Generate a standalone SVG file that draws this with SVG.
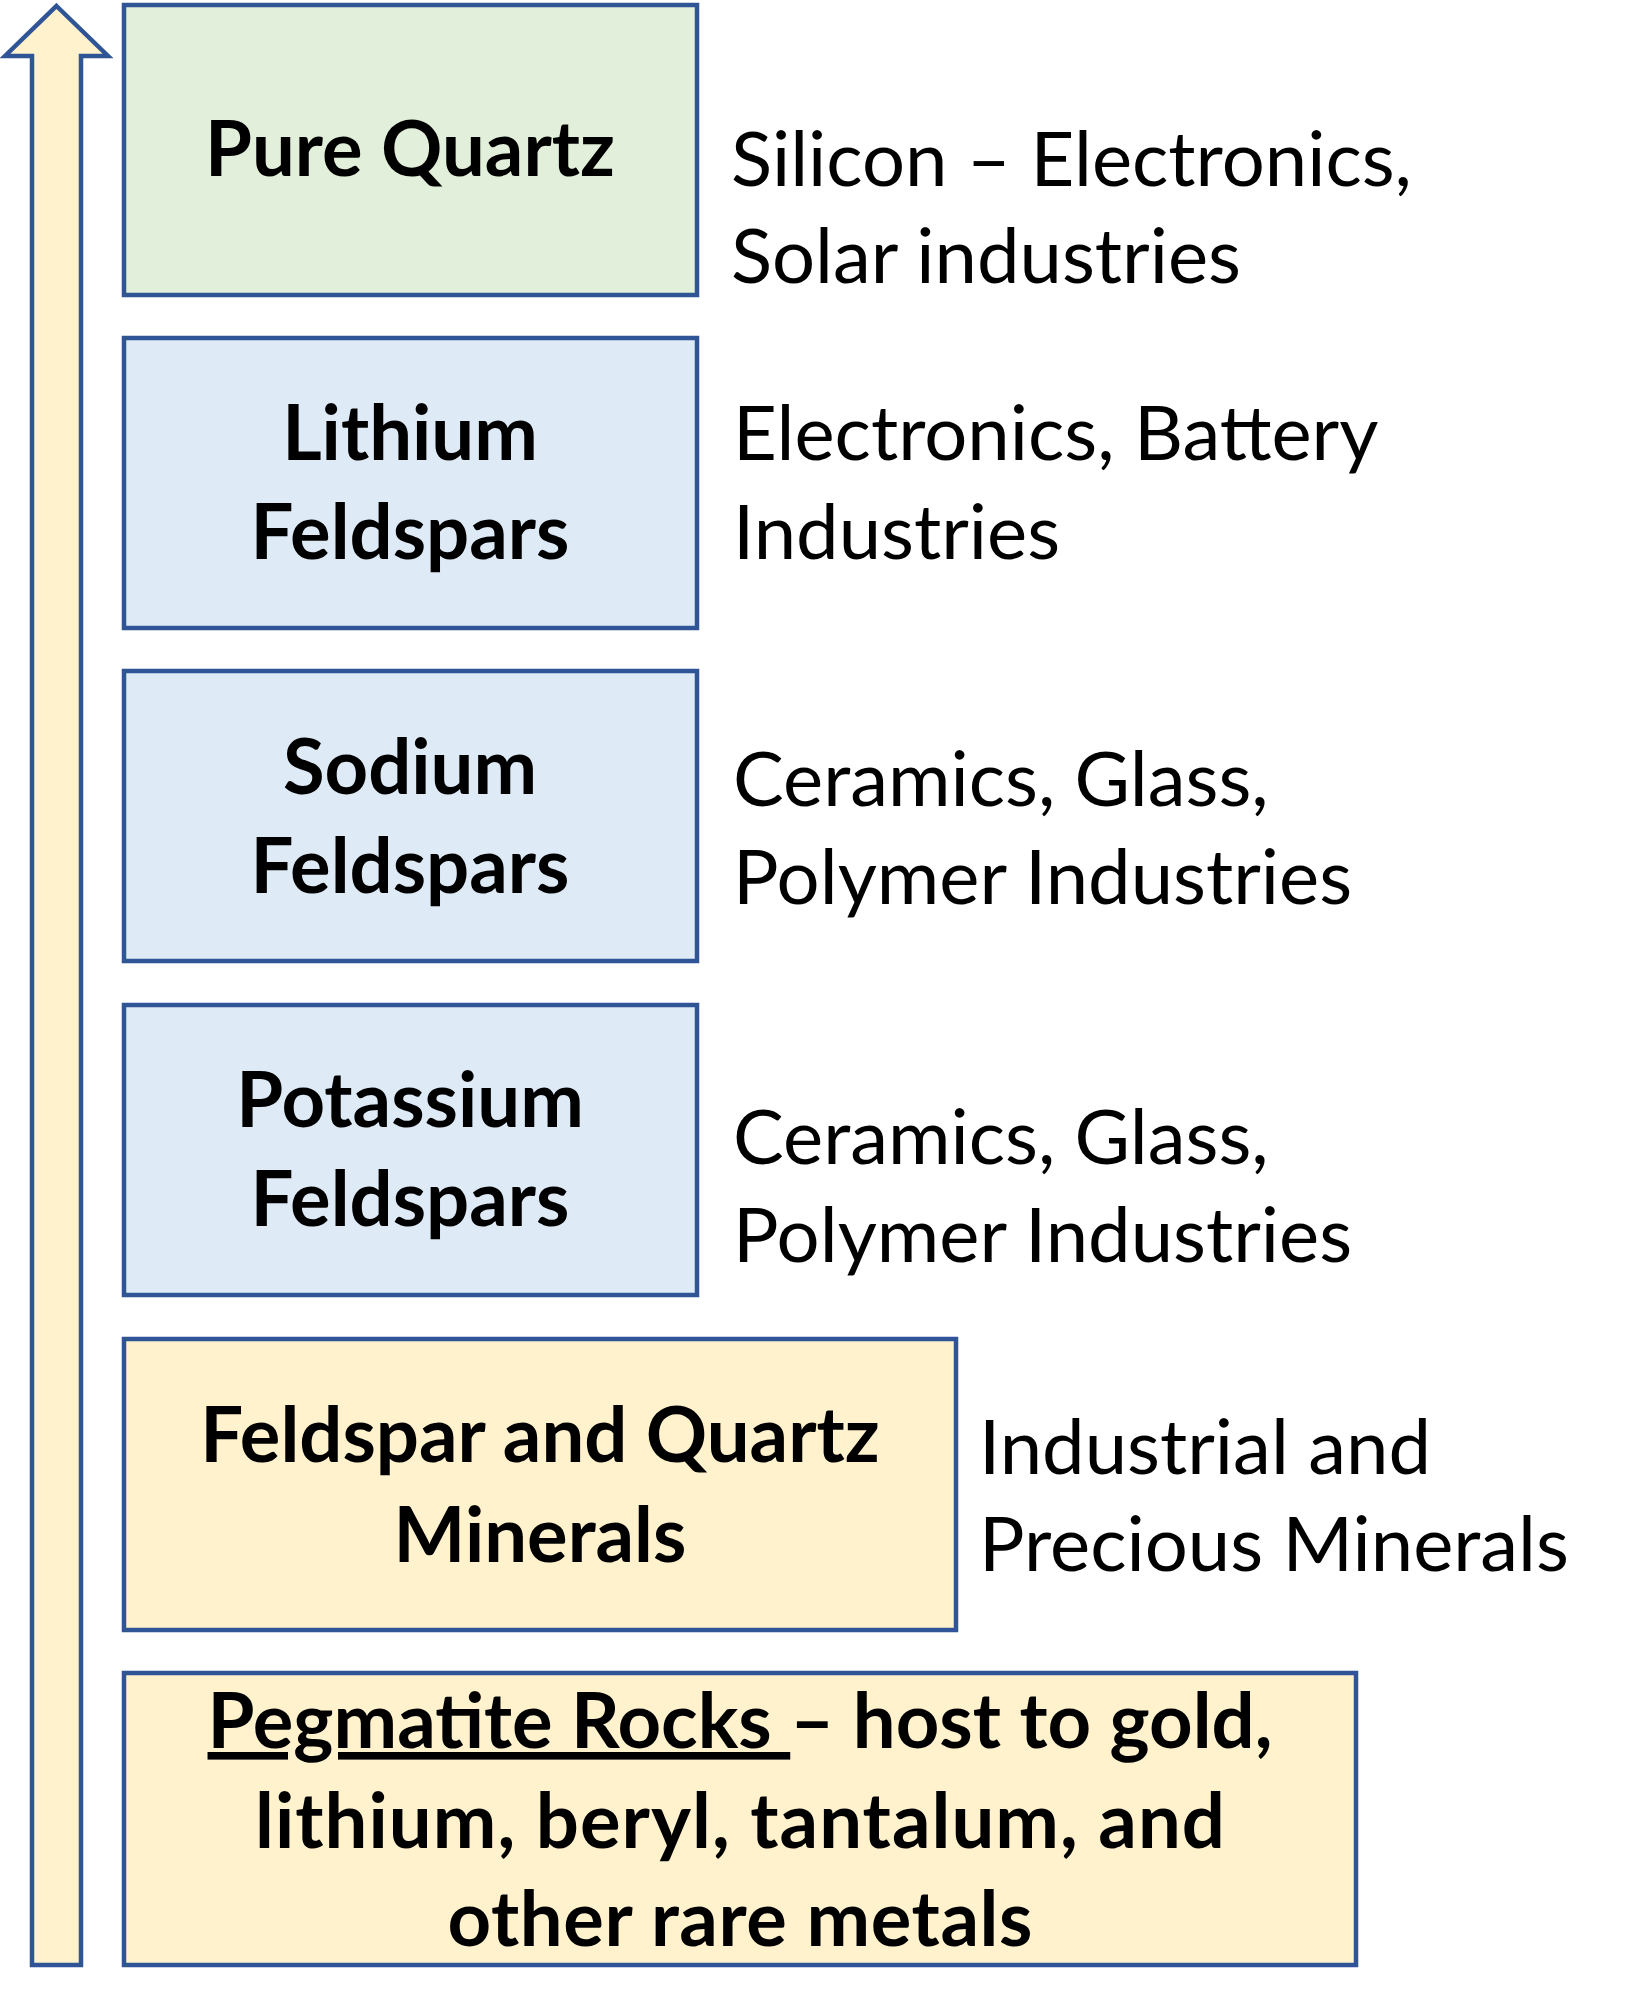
<svg xmlns="http://www.w3.org/2000/svg" width="1640" height="2015" viewBox="0 0 1640 2015">
<style>
.box{stroke:#2F5597;stroke-width:4.5}
.green{fill:#E2EFDA}
.blue{fill:#DEEBF7}
.yellow{fill:#FFF2CC}
.b{font-family:Lato,"Liberation Sans",sans-serif;font-weight:bold;font-size:76px;fill:#000;text-anchor:middle}
.r{font-family:Lato,"Liberation Sans",sans-serif;font-size:76px;fill:#000}
</style>
<rect width="1640" height="2015" fill="#fff"/>
<g id="connectors">
<path id="arrow" class="box yellow" d="M56.5 6 L108 56 L81 56 L81 1965 L32 1965 L32 56 L5 56 Z"/>
</g>
<g id="pure-quartz">
<rect class="box green" x="124" y="5" width="573" height="290"/>
<text class="b" x="410" y="176">Pure Quartz</text>
</g>
<g id="pure-quartz-use">
<text class="r" x="731" y="186">Silicon – Electronics,</text>
<text class="r" x="731" y="283">Solar industries</text>
</g>
<g id="lithium">
<rect class="box blue" x="124" y="338" width="573" height="290"/>
<text class="b" x="410" y="460">Lithium</text>
<text class="b" x="410" y="559">Feldspars</text>
</g>
<g id="lithium-use">
<text class="r" x="733" y="460">Electronics, Battery</text>
<text class="r" x="733" y="559">Industries</text>
</g>
<g id="sodium">
<rect class="box blue" x="124" y="671" width="573" height="290"/>
<text class="b" x="410" y="794">Sodium</text>
<text class="b" x="410" y="893">Feldspars</text>
</g>
<g id="sodium-use">
<text class="r" x="733" y="806">Ceramics, Glass,</text>
<text class="r" x="733" y="904">Polymer Industries</text>
</g>
<g id="potassium">
<rect class="box blue" x="124" y="1005" width="573" height="290"/>
<text class="b" x="410" y="1127">Potassium</text>
<text class="b" x="410" y="1226">Feldspars</text>
</g>
<g id="potassium-use">
<text class="r" x="733" y="1164">Ceramics, Glass,</text>
<text class="r" x="733" y="1262">Polymer Industries</text>
</g>
<g id="feldspar-quartz">
<rect class="box yellow" x="124" y="1339" width="832" height="291"/>
<text class="b" x="540" y="1462">Feldspar and Quartz</text>
<text class="b" x="540" y="1562">Minerals</text>
</g>
<g id="feldspar-quartz-use">
<text class="r" x="979" y="1474">Industrial and</text>
<text class="r" x="979" y="1571">Precious Minerals</text>
</g>
<g id="pegmatite">
<rect class="box yellow" x="124" y="1673" width="1232" height="292"/>
<text class="b" x="740" y="1748"><tspan text-decoration="underline">Pegmatite Rocks </tspan>– host to gold,</text>
<text class="b" x="740" y="1848" textLength="970">lithium, beryl, tantalum, and</text>
<text class="b" x="740" y="1946" textLength="585">other rare metals</text>
</g>
</svg>
